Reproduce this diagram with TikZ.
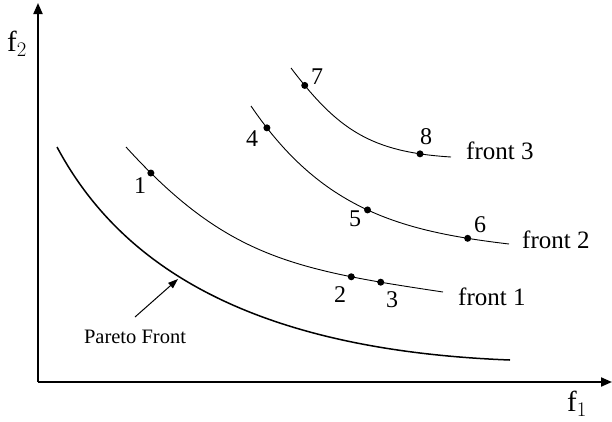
\documentclass[tikz,border=0pt]{standalone}
\usepackage{fontspec}
\setmainfont{Liberation Serif}
\usetikzlibrary{arrows.meta}
\begin{document}
\begin{tikzpicture}[x=1pt,y=-1pt,
  axis/.style={line width=2pt,-{Triangle[length=11pt,width=9pt]}},
  pareto/.style={line width=1.5pt},
  frontline/.style={line width=0.9pt},
  dot/.style={circle,fill=black,inner sep=0pt,minimum size=7pt},
  num/.style={font=\fontsize{24}{24}\selectfont,inner sep=0pt},
  flabel/.style={font=\fontsize{25}{25}\selectfont,inner sep=0pt,anchor=base west},
  plabel/.style={font=\fontsize{20.5}{20.5}\selectfont,inner sep=0pt},
  axlabel/.style={font=\fontsize{29}{29}\selectfont,inner sep=0pt}]
\useasboundingbox (0,0) rectangle (612,421);
% axes
\coordinate (O) at (38,382);
\coordinate (ytip) at (38,3);
\coordinate (xtip) at (612,382);
\draw[axis] (O) -- (ytip);
\draw[axis] (O) -- (xtip);
\node[axlabel] (f2) at (17,44) {f$_2$};
\node[axlabel] (f1) at (577,404) {f$_1$};
% pareto front
\coordinate (pa) at (57,147);
\coordinate (pf) at (510,360);
\draw[pareto] (pa) .. controls (120,265) and (250,350) .. (pf);
\node[plabel] (plab) at (135,337) {Pareto Front};
\coordinate (pst) at (135,317);
\coordinate (ptip) at (178,279);
\draw[line width=1pt,-{Triangle[length=10pt,width=7pt]}] (pst) -- (ptip);
% front 1
\coordinate (a1) at (126,147);
\coordinate (e1) at (443,292);
\draw[frontline] (a1) .. controls (226,257) and (293,269.5) .. (e1)
  node[dot,pos=0.085] (p1) {}
  node[dot,pos=0.77] (p2) {}
  node[dot,pos=0.85] (p3) {};
% front 2
\coordinate (a2) at (251,106);
\coordinate (e2) at (509,244);
\draw[frontline] (a2) .. controls (321,209) and (399,231) .. (e2)
  node[dot,pos=0.075] (p4) {}
  node[dot,pos=0.51] (p5) {}
  node[dot,pos=0.87] (p6) {};
% front 3
\coordinate (a3) at (291,68);
\coordinate (e3) at (451,157);
\draw[frontline] (a3) .. controls (338,130) and (371,152) .. (e3)
  node[dot,pos=0.1] (p7) {}
  node[dot,pos=0.86] (p8) {};
% labels
\node[num] (l1) at (140,186) {1};
\node[num] (l2) at (340,295) {2};
\node[num] (l3) at (392,300) {3};
\node[num] (l4) at (252,139) {4};
\node[num] (l5) at (355,219) {5};
\node[num] (l6) at (480,225) {6};
\node[num] (l7) at (317,77) {7};
\node[num] (l8) at (426,137) {8};
\node[flabel] (fr1) at (458,305) {front 1};
\node[flabel] (fr2) at (522,248) {front 2};
\node[flabel] (fr3) at (466,159) {front 3};
\end{tikzpicture}
\end{document}
